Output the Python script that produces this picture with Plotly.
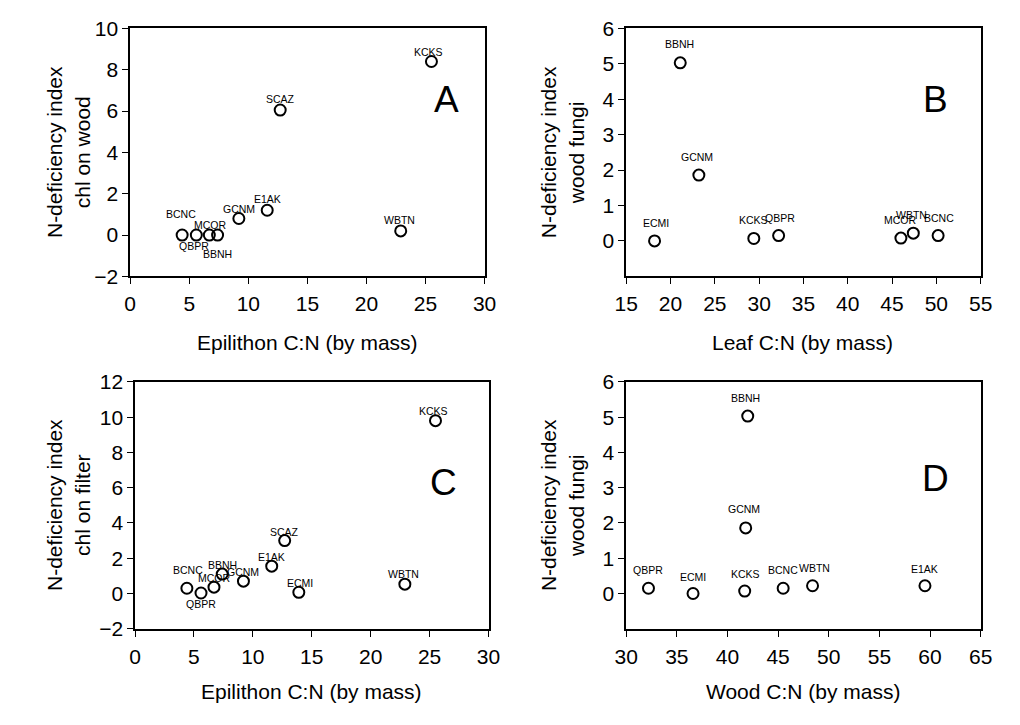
import plotly.graph_objects as go

W, H = 1020, 725

# ---------------- data ----------------
# Panel A: Epilithon C:N vs N-deficiency index (chl on wood)
a_sites = ["BCNC", "QBPR", "MCOR", "BBNH", "GCNM", "E1AK", "SCAZ", "KCKS", "WBTN"]
a_x = [4.4, 5.6, 6.7, 7.4, 9.2, 11.6, 12.7, 25.5, 22.9]
a_y = [0.0, 0.0, 0.0, 0.0, 0.8, 1.2, 6.05, 8.4, 0.2]

# Panel B: Leaf C:N vs N-deficiency index (wood fungi)
b_sites = ["ECMI", "BBNH", "GCNM", "KCKS", "QBPR", "MCOR", "WBTN", "BCNC"]
b_x = [18.2, 21.1, 23.2, 29.4, 32.2, 46.0, 47.4, 50.2]
b_y = [0.0, 5.03, 1.86, 0.07, 0.15, 0.08, 0.22, 0.15]

# Panel C: Epilithon C:N vs N-deficiency index (chl on filter)
c_sites = ["BCNC", "QBPR", "MCOR", "BBNH", "GCNM", "E1AK", "SCAZ", "ECMI", "KCKS", "WBTN"]
c_x = [4.4, 5.6, 6.7, 7.4, 9.2, 11.6, 12.7, 13.9, 25.5, 22.9]
c_y = [0.3, 0.03, 0.36, 1.1, 0.7, 1.55, 3.0, 0.07, 9.8, 0.53]

# Panel D: Wood C:N vs N-deficiency index (wood fungi)
d_sites = ["QBPR", "ECMI", "BBNH", "GCNM", "KCKS", "BCNC", "WBTN", "E1AK"]
d_x = [32.2, 36.6, 42.0, 41.8, 41.7, 45.5, 48.4, 59.5]
d_y = [0.15, 0.0, 5.03, 1.86, 0.07, 0.15, 0.22, 0.22]

# label offsets in pixels (dx, dy) -- styling only
a_off = [(-1, 21), (-2, -11), (1, 10), (0, -19), (0, 10), (0, 11), (0, 11), (-3, 10), (-1, 11)]
b_off = [(1, 18), (-1, 19), (-2, 18), (0, 18), (1, 18), (-1, 18), (-2, 18), (1, 18)]
c_off = [(1, 18), (0, -11), (0, 9), (0, 9), (0, 9), (0, 9), (0, 9), (1, 9), (-2, 10), (-1, 10)]
d_off = [(0, 18), (0, 17), (-2, 18), (-2, 19), (1, 17), (0, 18), (2, 18), (0, 17)]

FONT = "Liberation Sans, Arial, sans-serif"

panels = [
    dict(name="A", sites=a_sites, x=a_x, y=a_y, off=a_off, xa="x", ya="y",
         xdom=(121, 484), ydom=(17, 273), xr=[0, 30], xd=5, yr=[-2, 10], yt=list(range(-2, 11, 2)),
         xtitle="Epilithon C:N (by mass)", ytitle="N-deficiency index<br>chl on wood",
         ytx=58, xtpos=(303, 341), letter=(445, 90)),
    dict(name="B", sites=b_sites, x=b_x, y=b_y, off=b_off, xa="x2", ya="y2",
         xdom=(629, 992), ydom=(17, 273), xr=[15, 55], xd=5, yr=[-1, 6], yt=list(range(0, 7)),
         xtitle="Leaf C:N (by mass)", ytitle="N-deficiency index<br>wood fungi",
         ytx=564, xtpos=(810, 341), letter=(946, 90)),
    dict(name="C", sites=c_sites, x=c_x, y=c_y, off=c_off, xa="x3", ya="y3",
         xdom=(126, 488), ydom=(382, 637), xr=[0, 30], xd=5, yr=[-2, 12], yt=list(range(-2, 13, 2)),
         xtitle="Epilithon C:N (by mass)", ytitle="N-deficiency index<br>chl on filter",
         ytx=58, xtpos=(307, 702), letter=(442, 486)),
    dict(name="D", sites=d_sites, x=d_x, y=d_y, off=d_off, xa="x4", ya="y4",
         xdom=(629, 992), ydom=(382, 637), xr=[30, 65], xd=5, yr=[-1, 6], yt=list(range(0, 7)),
         xtitle="Wood C:N (by mass)", ytitle="N-deficiency index<br>wood fungi",
         ytx=564, xtpos=(811, 702), letter=(946, 482)),
]

fig = go.Figure()
annotations = []
layout_axes = {}

for p in panels:
    fig.add_trace(go.Scatter(
        x=p["x"], y=p["y"], mode="markers", xaxis=p["xa"], yaxis=p["ya"],
        marker=dict(symbol="circle-open", size=11, color="black", line=dict(width=2, color="black")),
        cliponaxis=False, showlegend=False, hoverinfo="skip"))
    for s, xv, yv, (dx, dy) in zip(p["sites"], p["x"], p["y"], p["off"]):
        annotations.append(dict(x=xv, y=yv, xref=p["xa"], yref=p["ya"], text=s, showarrow=False,
                                xshift=dx, yshift=dy, font=dict(size=10.5, color="black", family=FONT)))
    # axis titles
    yc = (p["ydom"][0] + p["ydom"][1]) / 2
    annotations.append(dict(x=p["ytx"] / W, y=1 - yc / H, xref="paper", yref="paper",
                            text=p["ytitle"], textangle=-90, showarrow=False,
                            xanchor="center", yanchor="middle",
                            font=dict(size=21, color="black", family=FONT)))
    annotations.append(dict(x=p["xtpos"][0] / W, y=1 - p["xtpos"][1] / H, xref="paper", yref="paper",
                            text=p["xtitle"], showarrow=False, xanchor="center", yanchor="middle",
                            font=dict(size=21, color="black", family=FONT)))
    annotations.append(dict(x=p["letter"][0] / W, y=1 - p["letter"][1] / H, xref="paper", yref="paper",
                            text=p["name"], showarrow=False, xanchor="center", yanchor="middle",
                            font=dict(size=37, color="black", family=FONT)))

    xkey = "xaxis" + p["xa"][1:]
    ykey = "yaxis" + p["ya"][1:]
    common = dict(showline=True, linecolor="black", linewidth=1.5, mirror=True, showgrid=False,
                  zeroline=False, ticks="outside", ticklen=6, tickwidth=1.2, tickcolor="black",
                  tickfont=dict(size=21, color="black", family=FONT))
    layout_axes[xkey] = dict(domain=[p["xdom"][0] / W, p["xdom"][1] / W], range=p["xr"],
                             dtick=p["xd"], tick0=p["xr"][0], anchor=p["ya"],
                             ticklabelstandoff=2, **common)
    layout_axes[ykey] = dict(domain=[1 - p["ydom"][1] / H, 1 - p["ydom"][0] / H], range=p["yr"],
                             tickvals=p["yt"], anchor=p["xa"], **common)

fig.update_layout(width=W, height=H, margin=dict(l=0, r=0, t=0, b=0),
                  paper_bgcolor="white", plot_bgcolor="white",
                  annotations=annotations, **layout_axes)

fig.write_html("out.html", config={"displayModeBar": False},
               post_script="document.body.style.margin='0';document.body.style.overflow='hidden';")
